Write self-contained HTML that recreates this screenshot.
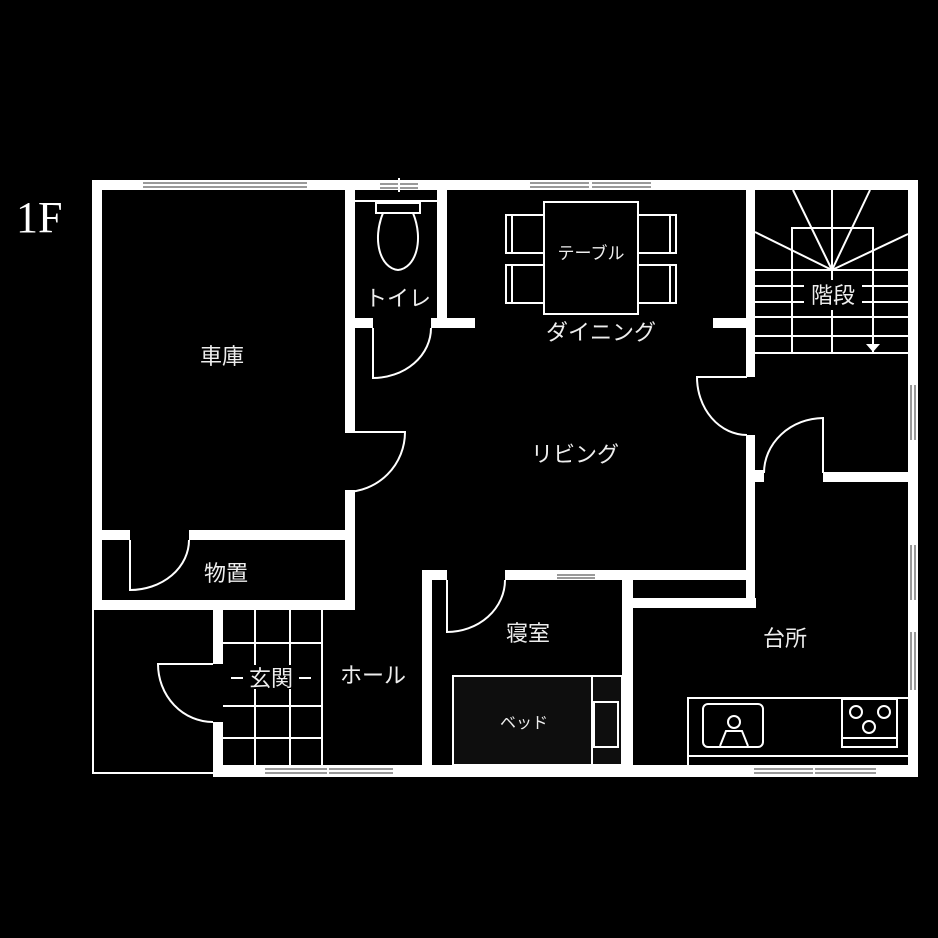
<!DOCTYPE html>
<html><head><meta charset="utf-8"><style>
html,body{margin:0;padding:0;background:#000;}
svg{display:block}
text{font-family:"Liberation Sans","Noto Sans CJK JP",sans-serif;fill:#eee;}
</style></head><body>
<svg width="938" height="938" viewBox="0 0 938 938" xmlns="http://www.w3.org/2000/svg">
<rect width="938" height="938" fill="#000"/>
<text x="16" y="232" style="font-family:'Liberation Serif',serif;font-size:44px;fill:#fff">1F</text>
<g fill="#fff">
<rect x="92" y="180" width="826" height="10"/>
<rect x="92" y="180" width="10" height="430"/>
<rect x="908" y="180" width="10" height="597"/>
<rect x="213" y="765" width="705" height="12"/>
<rect x="92" y="600" width="263" height="10"/>
<rect x="213" y="610" width="10" height="54"/>
<rect x="213" y="722" width="10" height="55"/>
<rect x="345" y="180" width="10" height="252"/>
<rect x="345" y="490" width="10" height="120"/>
<rect x="102" y="530" width="28" height="10"/>
<rect x="189" y="530" width="166" height="10"/>
<rect x="437" y="180" width="10" height="148"/>
<rect x="355" y="318" width="18" height="10"/>
<rect x="431" y="318" width="44" height="10"/>
<rect x="713" y="318" width="40" height="10"/>
<rect x="746" y="180" width="9" height="197"/>
<rect x="746" y="435" width="9" height="173"/>
<rect x="755" y="470" width="9" height="12"/>
<rect x="823" y="472" width="85" height="10"/>
<rect x="422" y="570" width="10" height="207"/>
<rect x="422" y="570" width="25" height="10"/>
<rect x="505" y="570" width="246" height="10"/>
<rect x="622" y="570" width="11" height="207"/>
<rect x="633" y="598" width="123" height="10"/>
</g>
<g fill="none" stroke="#fff" stroke-width="2">
<path d="M93 610 V773 H213"/>
<path d="M345 432 H405 A60 60 0 0 1 345 492"/>
<path d="M130 540 V590 A59 50 0 0 0 189 540"/>
<path d="M373 328 V378 A58 50 0 0 0 431 328"/>
<path d="M747 377 H697 A50 58 0 0 0 747 435"/>
<path d="M823 473 V418 A60 55 0 0 0 764 473"/>
<path d="M447 580 V632 A58 52 0 0 0 505 580"/>
<path d="M213 664 H158 A55 58 0 0 0 213 722"/>
<line x1="355" y1="201" x2="437" y2="201"/>
<rect x="376" y="203" width="44" height="10"/>
<path d="M383 213 C372 240 380 268 398 270 C416 268 424 240 413 213"/>
<rect x="544" y="202" width="94" height="112"/>
<rect x="506" y="215" width="38" height="38"/>
<rect x="506" y="265" width="38" height="38"/>
<rect x="638" y="215" width="38" height="38"/>
<rect x="638" y="265" width="38" height="38"/>
<line x1="512" y1="215" x2="512" y2="253"/><line x1="512" y1="265" x2="512" y2="303"/>
<line x1="670" y1="215" x2="670" y2="253"/><line x1="670" y1="265" x2="670" y2="303"/>
<path d="M755 270 H908 M755 286 H908 M755 302 H908 M755 317 H908 M755 336 H908 M755 353 H908"/>
<path d="M792 353 V228 H873 V353 M832 190 V353"/>
<path d="M832 270 L793 190 M832 270 L870 190 M832 270 L755 232 M832 270 L908 234"/>
<path d="M223 643 H322 M223 706 H322 M223 738 H322 M255 610 V765 M290 610 V765 M322 610 V765"/>
<rect x="453" y="676" width="169" height="89" fill="#0e0e0e"/>
<line x1="592" y1="676" x2="592" y2="765"/>
<rect x="594" y="702" width="24" height="45"/>
<path d="M688 765 V698 H908 M688 756 H908"/>
<rect x="703" y="704" width="60" height="43" rx="5"/>
<circle cx="734" cy="722" r="6"/>
<path d="M720 746 L726 731 H742 L748 746"/>
<rect x="842" y="699" width="55" height="48"/>
<line x1="842" y1="738" x2="897" y2="738"/>
<circle cx="856" cy="712" r="6"/><circle cx="884" cy="712" r="6"/><circle cx="869" cy="727" r="6"/>
</g>
<polygon points="866,344 880,344 873,352" fill="#fff"/>
<g stroke="#999" stroke-width="2" fill="none">
<path d="M143 183 H307 M143 187 H307"/>
<path d="M530 183 H589 M530 187 H589 M592 183 H651 M592 187 H651"/>
<path d="M380 184 H418 M380 188 H418"/>
<path d="M265 769 H393 M265 773 H393"/>
<path d="M754 769 H876 M754 773 H876"/>
<path d="M557 575 H595 M557 578 H595"/>
<path d="M911 385 V440 M915 385 V440 M911 545 V600 M915 545 V600 M911 632 V690 M915 632 V690"/>
</g>
<g stroke="#fff" stroke-width="2"><line x1="399" y1="178" x2="399" y2="192"/><line x1="590" y1="180" x2="590" y2="190"/><line x1="328" y1="765" x2="328" y2="777"/><line x1="814" y1="765" x2="814" y2="777"/></g>
<rect x="804" y="280" width="58" height="30" fill="#000"/>
<rect x="243" y="665" width="56" height="24" fill="#000"/>
<g font-size="22" text-anchor="middle">
<text x="222" y="364">車庫</text>
<text x="398" y="306">トイレ</text>
<text x="591" y="259" font-size="17">テーブル</text>
<text x="601" y="340">ダイニング</text>
<text x="833" y="303">階段</text>
<text x="575" y="462">リビング</text>
<text x="226" y="581">物置</text>
<text x="271" y="686">玄関</text>
<text x="373" y="683">ホール</text>
<text x="528" y="641">寝室</text>
<text x="524" y="728" font-size="16">ベッド</text>
<text x="785" y="646">台所</text>
</g>
<g stroke="#fff" stroke-width="2"><line x1="231" y1="678" x2="243" y2="678"/><line x1="299" y1="678" x2="311" y2="678"/></g>
</svg>
</body></html>
